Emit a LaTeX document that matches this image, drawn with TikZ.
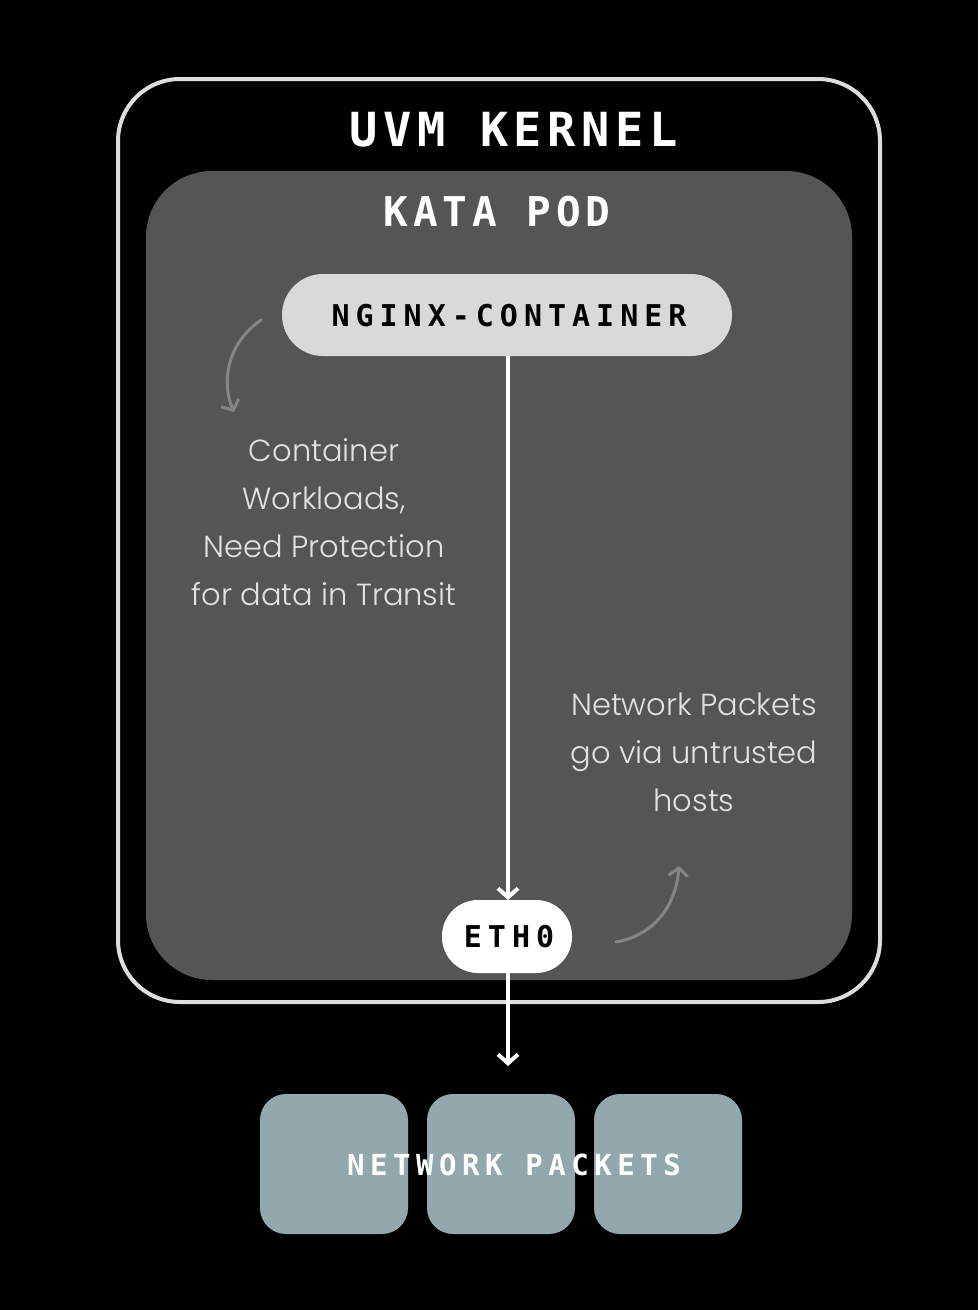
\documentclass[tikz,border=0pt]{standalone}
\usepackage{fontspec}
\usetikzlibrary{arrows.meta}
\newfontfamily\monob{DejaVu Sans Mono Bold}
\newfontfamily\lightsans{Poppins Light}
\definecolor{podgray}{HTML}{555555}
\definecolor{framegray}{HTML}{DDDDDD}
\definecolor{pillgray}{HTML}{D9D9D9}
\definecolor{packetfill}{HTML}{93A8AC}
\definecolor{notegray}{HTML}{E2E2E2}
\definecolor{curvegray}{HTML}{858585}
\tikzset{
  title/.style={font=\monob\fontsize{#1}{#1}\selectfont\addfontfeature{LetterSpace=12}, text=white, inner sep=0pt},
  label/.style={font=\monob\fontsize{#1}{#1}\selectfont\addfontfeature{LetterSpace=20}, text=black, inner sep=0pt},
  packetlabel/.style={font=\monob\fontsize{29}{29}\selectfont\addfontfeature{LetterSpace=19}, text=white, inner sep=0pt},
  note/.style={font=\lightsans\fontsize{30.5}{48}\selectfont, text=notegray, align=center, inner sep=0pt},
  flow/.style={draw=white, line width=4pt, -{Straight Barb[length=9pt, width=20pt, line width=4pt]}},
  curve/.style={draw=curvegray, line width=3pt, line cap=round, -{Straight Barb[length=8pt, width=19pt, line width=3pt]}},
  packet/.style={fill=packetfill, rounded corners=26pt}
}
\begin{document}
\begin{tikzpicture}[x=1pt, y=-1pt]
\fill[black] (0,0) rectangle (978,1310);
\useasboundingbox (0,0) rectangle (978,1310);
% outer frame
\draw[framegray, line width=4pt, rounded corners=62pt] (118,79) rectangle (880,1002);
% pod
\fill[podgray, rounded corners=66pt] (146,171) rectangle (852,980);
\node[title=47] (uvm) at (514,130) {UVM KERNEL};
\node[title=41] (kata) at (497,212) {KATA POD};
% nginx pill
\fill[pillgray, rounded corners=41pt] (282,274) rectangle (732,356);
\node[label=30] (nginx) at (509,316) {NGINX-CONTAINER};
\coordinate (nginxb) at (508,356);
% eth0 pill
\fill[white, rounded corners=36pt] (442,900) rectangle (572,973);
\node[label=30] (eth) at (509,937) {ETH0};
\coordinate (etht) at (508,900);
\coordinate (ethb) at (508,973);
\coordinate (pkttop) at (508,1066);
\draw[flow] (nginxb) -- (etht);
\draw[flow] (ethb) -- (pkttop);
% packets
\fill[packet] (260,1094) rectangle (408,1234);
\fill[packet] (427,1094) rectangle (575,1234);
\fill[packet] (594,1094) rectangle (742,1234);
\node[packetlabel] (pkts) at (514,1165) {NETWORK PACKETS};
% notes
\node[note] (n1) at (324,522) {Container\\Workloads,\\Need Protection\\for data in Transit};
\node[note] (n2) at (694,752) {Network Packets\\go via untrusted\\hosts};
% curved arrows
\coordinate (c1s) at (261,320);
\coordinate (c1e) at (234,412);
\draw[curve] (c1s) .. controls (225,345) and (222,385) .. (c1e);
\coordinate (c2s) at (616,942);
\coordinate (c2e) at (679,866);
\draw[curve] (c2s) .. controls (655,935) and (676,905) .. (c2e);
\end{tikzpicture}
\end{document}
